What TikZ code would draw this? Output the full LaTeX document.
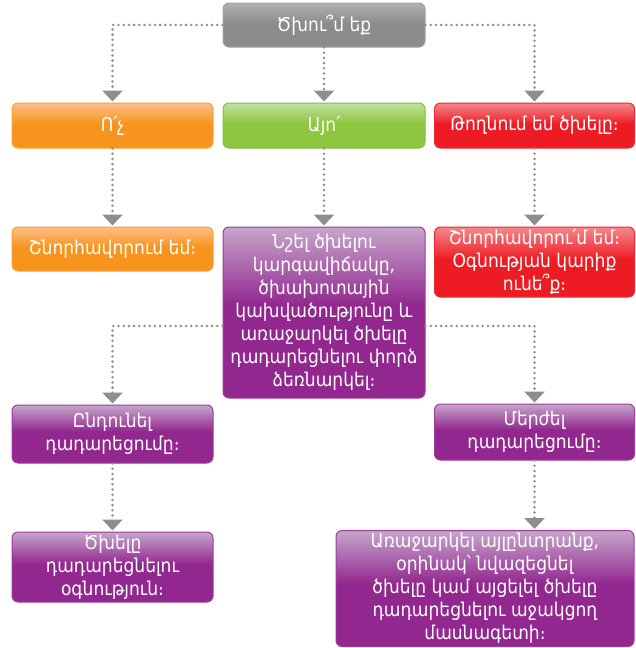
\documentclass[tikz,border=0pt]{standalone}
\usepackage{fontspec}
\setmainfont{DejaVu Sans Condensed}
\usetikzlibrary{arrows.meta}

% box palette: base fill, glossy top, outline
\definecolor{greyBase}{HTML}{8C8C8F}
\definecolor{greyLight}{HTML}{B0B0B3}
\definecolor{greyEdge}{HTML}{A3A3A6}
\definecolor{orangeBase}{HTML}{F7941D}
\definecolor{orangeLight}{HTML}{FBC08A}
\definecolor{orangeEdge}{HTML}{F9A23A}
\definecolor{greenBase}{HTML}{8DC63F}
\definecolor{greenLight}{HTML}{C2E0A0}
\definecolor{greenEdge}{HTML}{80C141}
\definecolor{redBase}{HTML}{ED1C24}
\definecolor{redLight}{HTML}{F5898C}
\definecolor{redEdge}{HTML}{EF2A31}
\definecolor{purpleBase}{HTML}{92278F}
\definecolor{purpleLight}{HTML}{C6A6CB}
\definecolor{purpleEdge}{HTML}{9E3C9B}
\definecolor{linkGrey}{HTML}{8F8F92}
\definecolor{tipGrey}{HTML}{8E8E91}

% glossy vertical shadings: flat lower half, lighter towards the top
\pgfdeclareverticalshading{shGrey}{100bp}{color(0bp)=(greyBase); color(52bp)=(greyBase); color(75bp)=(greyLight); color(100bp)=(greyLight)}
\pgfdeclareverticalshading{shOrange}{100bp}{color(0bp)=(orangeBase); color(52bp)=(orangeBase); color(75bp)=(orangeLight); color(100bp)=(orangeLight)}
\pgfdeclareverticalshading{shGreen}{100bp}{color(0bp)=(greenBase); color(52bp)=(greenBase); color(75bp)=(greenLight); color(100bp)=(greenLight)}
\pgfdeclareverticalshading{shRed}{100bp}{color(0bp)=(redBase); color(52bp)=(redBase); color(75bp)=(redLight); color(100bp)=(redLight)}
\pgfdeclareverticalshading{shPurple}{100bp}{color(0bp)=(purpleBase); color(52bp)=(purpleBase); color(75bp)=(purpleLight); color(100bp)=(purpleLight)}

\tikzset{
  card/.style={rounded corners=6pt, line width=1pt, text=white, align=center,
    inner sep=2pt, font=\fontsize{19}{23}\selectfont},
  greycard/.style={card, shading=shGrey, draw=greyEdge},
  orangecard/.style={card, shading=shOrange, draw=orangeEdge},
  greencard/.style={card, shading=shGreen, draw=greenEdge},
  redcard/.style={card, shading=shRed, draw=redEdge},
  purplecard/.style={card, shading=shPurple, draw=purpleEdge},
  link/.style={draw=linkGrey, line width=2.8pt, line cap=round,
    dash pattern=on 0pt off 5.2pt,
    -{Triangle[width=20pt,length=11pt,color=tipGrey]}, shorten >=1pt}
}

\begin{document}
\begin{tikzpicture}[x=1pt,y=-1pt]
\useasboundingbox (0,0) rectangle (635,648);

% question
\node[greycard, minimum width=202pt, minimum height=44pt] (ask) at (324,25) {Ծխու՞մ եք};

% answers
\node[orangecard, minimum width=201pt, minimum height=45pt] (no) at (112.5,125.5) {Ո՛չ};
\node[greencard, minimum width=202pt, minimum height=45pt] (yes) at (324,125.5) {Այո՛};
\node[redcard, minimum width=200pt, minimum height=45pt] (quit) at (534.5,125.5) {Թողնում եմ ծխելը։};

% responses
\node[orangecard, minimum width=201pt, minimum height=44pt] (congrats) at (112.5,249) {Շնորհավորում եմ։};
\node[purplecard, minimum width=202pt, minimum height=171pt] (plan) at (324,312.5)
  {Նշել ծխելու\\կարգավիճակը,\\ծխախոտային\\կախվածությունը և\\առաջարկել ծխելը\\դադարեցնելու փորձ\\ձեռնարկել։};
\node[redcard, minimum width=200pt, minimum height=70pt] (offer) at (534.5,262)
  {Շնորհավորու՛մ եմ։\\Օգնության կարիք\\ունե՞ք։};

% reaction to the attempt
\node[purplecard, minimum width=201pt, minimum height=58pt] (accept) at (112.5,434) {Ընդունել\\դադարեցումը։};
\node[purplecard, minimum width=200pt, minimum height=56pt] (reject) at (534.5,432) {Մերժել\\դադարեցումը։};

% follow-up
\node[purplecard, minimum width=201pt, minimum height=70pt] (help) at (112.5,567)
  {Ծխելը\\դադարեցնելու\\օգնություն։};
\node[purplecard, minimum width=298pt, minimum height=116pt] (alt) at (485,588.5)
  {Առաջարկել այլընտրանք,\\օրինակ՝ նվազեցնել\\ծխելը կամ այցելել ծխելը\\դադարեցնելու աջակցող\\մասնագետի։};

% connectors
\draw[link] (ask.west) -| (no.north);
\draw[link] (ask.south) -- (yes.north);
\draw[link] (ask.east) -| (quit.north);
\draw[link] (no.south) -- (congrats.north);
\draw[link] (yes.south) -- (plan.north);
\draw[link] (quit.south) -- (offer.north);
\draw[link] ([yshift=-13.5pt]plan.west) -| (accept.north);
\draw[link] ([yshift=-13.5pt]plan.east) -| (reject.north);
\draw[link] (accept.south) -- (help.north);
\draw[link] (reject.south) -- (reject.south |- alt.north);
\end{tikzpicture}
\end{document}
